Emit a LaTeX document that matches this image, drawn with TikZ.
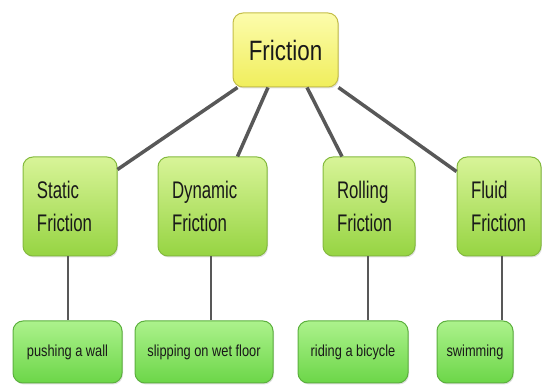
\documentclass[tikz,border=0pt]{standalone}
\usepackage{fontspec}
\setmainfont{Liberation Sans}[FakeStretch=0.8]
\newfontfamily\narrowfont{Liberation Sans}[FakeStretch=0.7]
\usetikzlibrary{shadows}

\definecolor{ylwtop}{RGB}{252,252,172}
\definecolor{ylwbot}{RGB}{240,238,92}
\definecolor{ylwline}{RGB}{196,190,72}
\definecolor{midtop}{RGB}{216,244,152}
\definecolor{midbot}{RGB}{150,212,66}
\definecolor{midline}{RGB}{132,186,62}
\definecolor{lowtop}{RGB}{172,242,140}
\definecolor{lowbot}{RGB}{108,214,72}
\definecolor{lowline}{RGB}{92,176,62}
\definecolor{linkgray}{RGB}{88,88,88}

\begin{document}
\begin{tikzpicture}[x=1pt, y=-1pt,
  box/.style={rounded corners=10pt, line width=1pt, text=black!90,
    drop shadow={opacity=0.25, shadow xshift=1pt, shadow yshift=-1.5pt}},
  topbox/.style={box, draw=ylwline, top color=ylwtop, bottom color=ylwbot,
    minimum width=105pt, minimum height=74pt, font=\fontsize{28}{30}\selectfont},
  kindbox/.style={box, draw=midline, top color=midtop, bottom color=midbot,
    minimum height=99pt, inner xsep=14pt, text width=#1, align=left,
    font=\narrowfont\fontsize{24}{33}\selectfont},
  examplebox/.style={box, draw=lowline, top color=lowtop, bottom color=lowbot,
    minimum height=62pt, minimum width=#1, font=\fontsize{16}{18}\selectfont},
  mainlink/.style={draw=linkgray, line width=3.5pt},
  sublink/.style={draw=linkgray, line width=1.5pt}]

 \useasboundingbox (0,0) rectangle (542,385);

 % top
 \node[topbox] (friction) at (285.5,50) {Friction};

 % kinds of friction
 \node[kindbox=66pt] (static) at (70,206.5) {Static\\Friction};
 \node[kindbox=81pt] (dynamic) at (212.5,206.5) {Dynamic\\Friction};
 \node[kindbox=64pt] (rolling) at (369,206.5) {Rolling\\Friction};
 \node[kindbox=56pt] (fluid) at (499,206.5) {Fluid\\Friction};

 % examples
 \node[examplebox=109pt] (pushing) at (67.5,352) {pushing a wall};
 \node[examplebox=138pt] (slipping) at (204,352) {slipping on wet floor};
 \node[examplebox=110pt] (riding) at (353,352) {riding a bicycle};
 \node[examplebox=76pt] (swimming) at (475,352) {swimming};

 \draw[mainlink] ([xshift=5pt]friction.south west) -- ([yshift=-13pt]static.north east);
 \draw[mainlink] ([xshift=-17.5pt]friction.south) -- ([xshift=25pt]dynamic.north);
 \draw[mainlink] ([xshift=21.5pt]friction.south) -- ([xshift=-27pt]rolling.north);
 \draw[mainlink] (friction.south east) -- ([yshift=-15pt]fluid.north west);

 \draw[sublink] ([xshift=-2pt]static.south) -- ([xshift=-2pt]static.south |- pushing.north);
 \draw[sublink] ([xshift=-1.5pt]dynamic.south) -- ([xshift=-1.5pt]dynamic.south |- slipping.north);
 \draw[sublink] ([xshift=-1pt]rolling.south) -- ([xshift=-1pt]rolling.south |- riding.north);
 \draw[sublink] ([xshift=3pt]fluid.south) -- ([xshift=3pt]fluid.south |- swimming.north);

\end{tikzpicture}
\end{document}
